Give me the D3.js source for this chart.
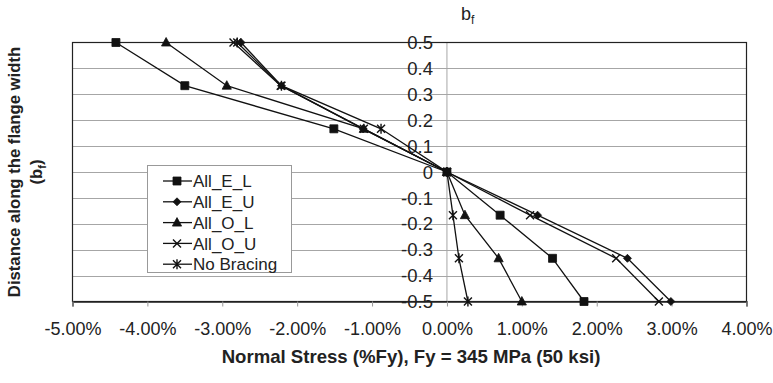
<!DOCTYPE html>
<html>
<head>
<meta charset="utf-8">
<script src="https://cdn.jsdelivr.net/npm/d3@7"></script>
<style>
  html, body { margin: 0; padding: 0; background: #fff; }
  svg { display: block; font-family: "Liberation Sans", Arial, sans-serif; }
</style>
</head>
<body>
<svg id="chart" width="773" height="383"></svg>
<script>
// Distance along flange width (fraction of bf)
const positions = [0.5, 0.3333, 0.1667, 0, -0.1667, -0.3333, -0.5];

// Normal stress in % of Fy, one value per position
const allEL     = [-4.42, -3.50, -1.51, 0, 0.71, 1.41, 1.83];
const allEU     = [-2.75, -2.21, -1.12, 0, 1.21, 2.41, 2.99];
const allOL     = [-3.75, -2.94, -1.11, 0, 0.24, 0.69, 1.00];
const allOU     = [-2.85, -2.22, -1.11, 0, 1.11, 2.26, 2.83];
const noBracing = [-2.80, -2.21, -0.88, 0, 0.08, 0.16, 0.28];

const seriesNames = ['All_E_L', 'All_E_U', 'All_O_L', 'All_O_U', 'No Bracing'];
const markerTypes = ['square', 'diamond', 'triangle', 'cross', 'star'];

const xTicks = [-5, -4, -3, -2, -1, 0, 1, 2, 3, 4];
const yTicks = [0.5, 0.4, 0.3, 0.2, 0.1, 0, -0.1, -0.2, -0.3, -0.4, -0.5];

const series = [allEL, allEU, allOL, allOU, noBracing].map((vals, i) => ({
  name: seriesNames[i],
  marker: markerTypes[i],
  points: vals.map((v, j) => ({ x: v, y: positions[j] }))
}));

const svg = d3.select('#chart');
const x = d3.scaleLinear().domain([-5, 4]).range([72.5, 746.5]);
const y = d3.scaleLinear().domain([-0.5, 0.5]).range([301.5, 42.5]);

// --- marker paths
function markerPath(type) {
  switch (type) {
    case 'square':   return 'M-4,-4H4V4H-4Z';
    case 'diamond':  return 'M0,-4L4,0L0,4L-4,0Z';
    case 'triangle': return 'M0,-5L4.6,3.5H-4.6Z';
    case 'cross':    return 'M-4,-4L4,4M-4,4L4,-4';
    case 'star':     return 'M-4,-4L4,4M-4,4L4,-4M0,-5V5';
  }
}
function drawMarker(sel, type) {
  const filled = type === 'square' || type === 'diamond' || type === 'triangle';
  sel.append('path')
    .attr('d', markerPath(type))
    .attr('fill', filled ? '#111' : 'none')
    .attr('stroke', '#111')
    .attr('stroke-width', filled ? 0.8 : 1.4);
}

// --- grid lines
svg.append('g')
  .selectAll('line')
  .data(yTicks.filter(t => Math.abs(t) < 0.45))
  .join('line')
  .attr('x1', x(-5)).attr('x2', x(4))
  .attr('y1', d => Math.round(y(d)) + 0.5).attr('y2', d => Math.round(y(d)) + 0.5)
  .attr('stroke', '#a6a6a6')
  .attr('stroke-width', 1);

// vertical axis line at 0
svg.append('line')
  .attr('x1', x(0)).attr('x2', x(0))
  .attr('y1', y(0.5)).attr('y2', y(-0.5))
  .attr('stroke', '#a6a6a6');

// plot frame
svg.append('rect')
  .attr('x', x(-5)).attr('y', y(0.5))
  .attr('width', x(4) - x(-5)).attr('height', y(-0.5) - y(0.5))
  .attr('fill', 'none')
  .attr('stroke', '#222')
  .attr('stroke-width', 1.2);

// x axis at the bottom
const xAxis = d3.axisBottom(x)
  .tickValues(xTicks)
  .tickSize(5)
  .tickFormat(d => d.toFixed(2) + '%');
const gx = svg.append('g')
  .attr('transform', `translate(0,${y(-0.5)})`)
  .call(xAxis);
gx.select('.domain').attr('stroke', '#222').attr('stroke-width', 1.5);
gx.selectAll('.tick line').attr('stroke', '#999');
gx.selectAll('.tick text')
  .attr('y', 21)
  .attr('font-size', 18)
  .attr('font-family', '"Liberation Sans", Arial, sans-serif')
  .attr('fill', '#222');

// y tick labels placed next to the zero axis
svg.append('g')
  .selectAll('text')
  .data(yTicks)
  .join('text')
  .attr('x', x(0) - 14)
  .attr('y', d => y(d))
  .attr('dy', '0.36em')
  .attr('text-anchor', 'end')
  .attr('font-size', 18.5)
  .attr('fill', '#222')
  .text(d => d3.format('.1~f')(d).replace('−', '-'));

// --- series lines and markers
const line = d3.line().x(d => x(d.x)).y(d => y(d.y));
series.forEach(s => {
  svg.append('path')
    .datum(s.points)
    .attr('d', line)
    .attr('fill', 'none')
    .attr('stroke', '#111')
    .attr('stroke-width', 1.3);
  svg.append('g')
    .selectAll('g')
    .data(s.points)
    .join('g')
    .attr('transform', d => `translate(${x(d.x)},${y(d.y)})`)
    .each(function() { drawMarker(d3.select(this), s.marker); });
});

// --- legend
const legend = svg.append('g').attr('transform', 'translate(147,165)');
legend.append('rect')
  .attr('x', 0.5).attr('y', 0.5)
  .attr('width', 144).attr('height', 107)
  .attr('fill', '#fff')
  .attr('stroke', '#999');
series.forEach((s, i) => {
  const row = legend.append('g').attr('transform', `translate(0,${16 + i * 20.8})`);
  row.append('line')
    .attr('x1', 16).attr('x2', 45)
    .attr('stroke', '#111').attr('stroke-width', 1.3);
  const m = row.append('g').attr('transform', 'translate(30,0)');
  drawMarker(m, s.marker);
  row.append('text')
    .attr('x', 46).attr('dy', '0.36em')
    .attr('font-size', 17)
    .attr('fill', '#222')
    .text(s.name);
});

// --- titles
const title = svg.append('text')
  .attr('x', 461).attr('y', 20)
  .attr('font-size', 18)
  .attr('fill', '#222');
title.append('tspan').text('b');
title.append('tspan').attr('font-size', 12).attr('dy', 4).text('f');

svg.append('text')
  .attr('x', 411).attr('y', 363)
  .attr('text-anchor', 'middle')
  .attr('font-size', 18.6)
  .attr('font-weight', 'bold')
  .attr('fill', '#222')
  .text('Normal Stress (%Fy), Fy = 345 MPa (50 ksi)');

const ylab = svg.append('g').attr('transform', 'translate(20,172) rotate(-90)');
ylab.append('text')
  .attr('text-anchor', 'middle')
  .attr('font-size', 16.7)
  .attr('font-weight', 'bold')
  .attr('fill', '#222')
  .text('Distance along the flange width');
const ylab2 = ylab.append('text')
  .attr('y', 22)
  .attr('text-anchor', 'middle')
  .attr('font-size', 16.7)
  .attr('font-weight', 'bold')
  .attr('fill', '#222');
ylab2.append('tspan').text('(b');
ylab2.append('tspan').attr('font-size', 11).attr('dy', 4).text('f');
ylab2.append('tspan').attr('dy', -4).text(')');
</script>
</body>
</html>
